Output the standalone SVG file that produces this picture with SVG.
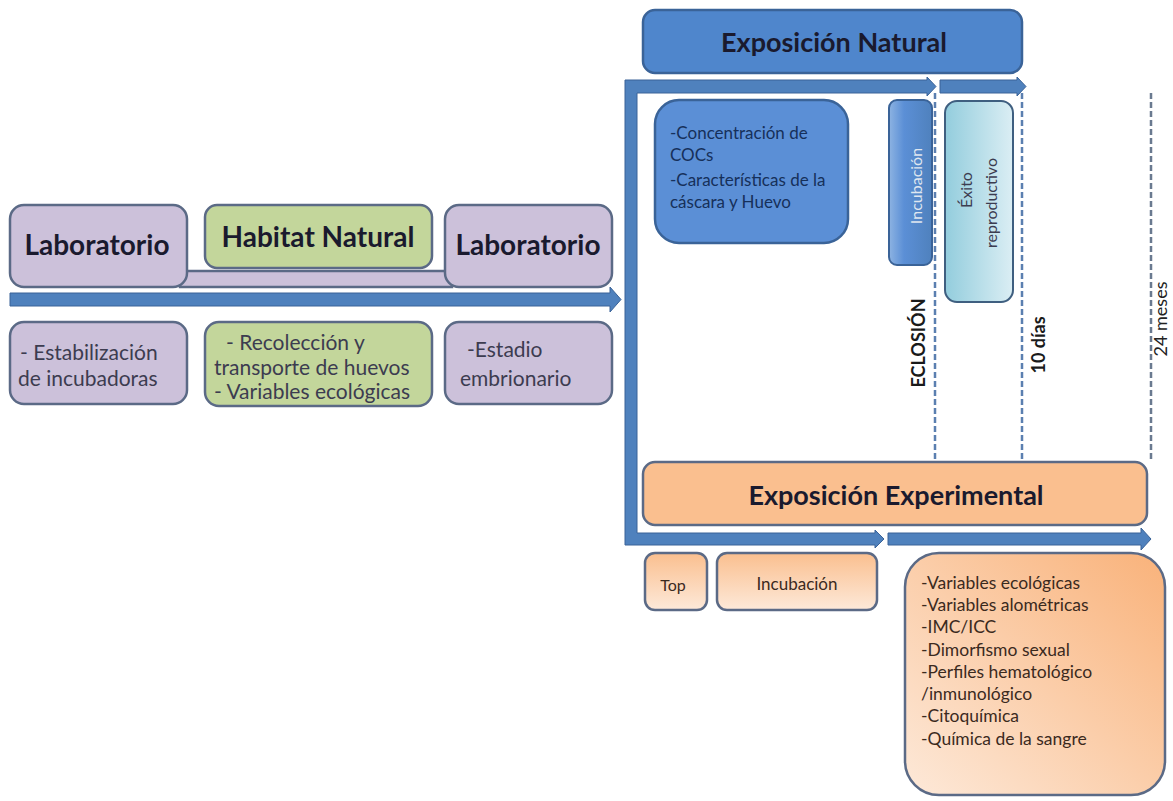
<svg xmlns="http://www.w3.org/2000/svg" width="1173" height="801" viewBox="0 0 1173 801">
<defs>
<linearGradient id="gInc" x1="0" y1="0" x2="1" y2="0"><stop offset="0" stop-color="#8db3e2"/><stop offset="0.35" stop-color="#5b8fd6"/><stop offset="1" stop-color="#4f81bd"/></linearGradient>
<linearGradient id="gExi" x1="0" y1="0" x2="1" y2="0"><stop offset="0" stop-color="#93cddd"/><stop offset="1" stop-color="#dbeef4"/></linearGradient>
<linearGradient id="gOr" x1="0" y1="0" x2="0" y2="1"><stop offset="0" stop-color="#fabf8f"/><stop offset="1" stop-color="#fde9d9"/></linearGradient>
<linearGradient id="gOr2" x1="1" y1="0" x2="0" y2="1"><stop offset="0" stop-color="#f9b27a"/><stop offset="1" stop-color="#fde9d9"/></linearGradient>
<style>
.lav{fill:#ccc1da;stroke:#5b6a86;stroke-width:2.5}
.grn{fill:#c3d69b;stroke:#5b6a86;stroke-width:2.5}
.blu{fill:#4f86cc;stroke:#3a6398;stroke-width:2.5}
.arr{fill:#4f81bd;stroke:#3a6398;stroke-width:1}
.dash{stroke:#5b7fb0;stroke-width:2.5;stroke-dasharray:6 3;fill:none}
.h{font-family:Lato,"Liberation Sans",sans-serif;font-weight:bold;fill:#1a1a2e}
.v{font-family:Lato,"Liberation Sans",sans-serif;font-weight:bold;fill:#1a1a1a}
.t{font-family:Lato,"Liberation Sans",sans-serif;fill:#3c3c50}
.tb{font-family:Lato,"Liberation Sans",sans-serif;fill:#16305a}
.to{font-family:Lato,"Liberation Sans",sans-serif;fill:#3b2a1e}
</style>
</defs>
<g id="connectors">
<rect class="lav" x="180" y="271" width="272" height="16"/>
<path class="arr" d="M10 293 H610 V287 L621 299.5 L610 312 V306 H10 Z"/>
<path class="arr" d="M625 80 H927 V77 L936 86.5 L927 96 V93 H637 V533 H875 V530 L884 539 L875 548 V545 H625 Z"/>
<path class="arr" d="M940 80 H1017 V77 L1026 86.5 L1017 96 V93 H940 Z"/>
<path class="arr" d="M888 533 H1141 V528 L1151 539 L1141 550 V545 H888 Z"/>
<line class="dash" x1="935" y1="93" x2="935" y2="462"/>
<line class="dash" x1="1022" y1="93" x2="1022" y2="462"/>
<line class="dash" x1="1151" y1="93" x2="1151" y2="462" style="stroke:#6a7a90"/>
</g>
<g id="lab1"><rect class="lav" x="10" y="205" width="177" height="82" rx="14"/><text class="h" x="97" y="255" font-size="28" text-anchor="middle">Laboratorio</text></g>
<g id="habitat"><rect class="grn" x="205" y="205" width="227" height="63" rx="12"/><text class="h" x="318" y="247" font-size="28" text-anchor="middle">Habitat Natural</text></g>
<g id="lab2"><rect class="lav" x="445" y="205" width="167" height="82" rx="14"/><text class="h" x="528" y="255" font-size="28" text-anchor="middle">Laboratorio</text></g>
<g id="estab"><rect class="lav" x="10" y="322" width="177" height="82" rx="14"/><text class="t" font-size="21"><tspan x="20" y="360">- Estabilización</tspan><tspan x="18" y="386">de incubadoras</tspan></text></g>
<g id="recol"><rect class="grn" x="205" y="322" width="227" height="84" rx="14"/><text class="t" font-size="21"><tspan x="226" y="350">- Recolección y</tspan><tspan x="214" y="375">transporte de huevos</tspan><tspan x="214" y="399">- Variables ecológicas</tspan></text></g>
<g id="estadio"><rect class="lav" x="445" y="322" width="167" height="82" rx="14"/><text class="t" font-size="21"><tspan x="467" y="357">-Estadio</tspan><tspan x="460" y="386">embrionario</tspan></text></g>
<g id="expNat"><rect class="blu" x="643" y="10" width="379" height="63" rx="12"/><text class="h" x="834" y="52" font-size="27" text-anchor="middle">Exposición Natural</text></g>
<g id="conc"><rect class="blu" x="655" y="100" width="193" height="143" rx="24" style="fill:#5b8fd6"/><text class="tb" font-size="17"><tspan x="670" y="139">-Concentración de</tspan><tspan x="670" y="161">COCs</tspan><tspan x="670" y="186">-Características de la</tspan><tspan x="670" y="208">cáscara y Huevo</tspan></text></g>
<g id="incub"><rect x="889" y="100" width="43" height="165" rx="8" fill="url(#gInc)" stroke="#3a6398" stroke-width="2"/><text class="t" font-size="16" text-anchor="middle" transform="translate(922 186) rotate(-90)" style="fill:#dfe6f0">Incubación</text></g>
<g id="exito"><rect x="945" y="101" width="68" height="201" rx="12" fill="url(#gExi)" stroke="#3f5f80" stroke-width="2"/><text class="t" font-size="16" text-anchor="middle" transform="rotate(-90)"><tspan x="-190" y="972">Éxito</tspan><tspan x="-203" y="997">reproductivo</tspan></text></g>
<text class="v" font-size="18" text-anchor="middle" transform="translate(925 343) rotate(-90)">ECLOSIÓN</text>
<text class="v" font-size="18" text-anchor="middle" transform="translate(1045 345) rotate(-90)">10 días</text>
<text class="v" font-size="18" text-anchor="middle" transform="translate(1167 319) rotate(-90)" style="font-weight:normal;fill:#222">24 meses</text>
<g id="expExp"><rect x="643" y="462" width="504" height="63" rx="12" fill="#fabf8f" stroke="#5b6a86" stroke-width="2.5"/><text class="h" x="896" y="505" font-size="27" text-anchor="middle">Exposición Experimental</text></g>
<g id="top"><rect x="645" y="553" width="62" height="57" rx="10" fill="url(#gOr)" stroke="#5b6a86" stroke-width="2.5"/><text class="to" x="673" y="591" font-size="16" text-anchor="middle">Top</text></g>
<g id="incub2"><rect x="717" y="553" width="160" height="57" rx="10" fill="url(#gOr)" stroke="#5b6a86" stroke-width="2.5"/><text class="to" x="797" y="590" font-size="17" text-anchor="middle">Incubación</text></g>
<g id="vars"><rect x="905" y="553" width="260" height="242" rx="34" fill="url(#gOr2)" stroke="#5b6a86" stroke-width="2.5"/><text class="to" font-size="17.5"><tspan x="921" y="589">-Variables ecológicas</tspan><tspan x="921" y="611">-Variables alométricas</tspan><tspan x="921" y="633">-IMC/ICC</tspan><tspan x="921" y="656">-Dimorfismo sexual</tspan><tspan x="921" y="678">-Perfiles hematológico</tspan><tspan x="921" y="700">/inmunológico</tspan><tspan x="921" y="722">-Citoquímica</tspan><tspan x="921" y="745">-Química de la sangre</tspan></text></g>
</svg>
